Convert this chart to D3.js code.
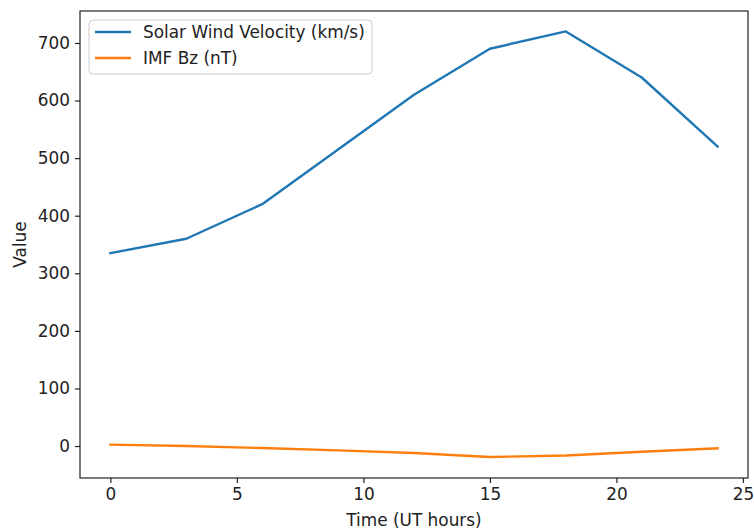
<!DOCTYPE html>
<html><head><meta charset="utf-8">
<script src="https://cdn.jsdelivr.net/npm/d3@7"></script>
<style>body{margin:0;background:#fff}svg{display:block;font-family:"DejaVu Sans",sans-serif}</style>
</head><body><svg id="c" width="754" height="531"></svg>
<script>
const hours = [0, 3, 6, 9, 12, 15, 18, 21, 24];
const velocity = [335, 360, 420, 515, 610, 690, 720, 640, 520];
const imfBz = [2.5, 0, -3.5, -7.5, -12, -19, -16.5, -10, -4];
const seriesNames = ["Solar Wind Velocity (km/s)", "IMF Bz (nT)"];
const colors = ["#1f77b4", "#ff7f0e"];
const xTicks = [0, 5, 10, 15, 20, 25];
const yTicks = [0, 100, 200, 300, 400, 500, 600, 700];

const svg = d3.select("#c");
const L = 80, R = 748, T = 11, B = 478;
const x = d3.scaleLinear().domain([-1.2, 25.2]).range([L, R]);
const y = d3.scaleLinear().domain([-55.5, 755.5]).range([B, T]);
const fs = 16.9;

const series = [velocity, imfBz];
const line = d3.line().x((d, i) => x(hours[i])).y(d => y(d));
svg.append("g").selectAll("path").data(series).join("path")
  .attr("d", d => line(d)).attr("fill", "none")
  .attr("stroke", (d, i) => colors[i]).attr("stroke-width", 2.4)
  .attr("stroke-linejoin", "round").attr("stroke-linecap", "square");

const xa = svg.append("g").attr("transform", `translate(0,${B})`)
  .call(d3.axisBottom(x).tickValues(xTicks).tickSize(5).tickPadding(5).tickFormat(d3.format("d")));
const ya = svg.append("g").attr("transform", `translate(${L},0)`)
  .call(d3.axisLeft(y).tickValues(yTicks).tickSize(5).tickPadding(5).tickFormat(d3.format("d")));
[xa, ya].forEach(a => {
  a.select(".domain").remove();
  a.selectAll("text").attr("font-size", fs).attr("fill", "#222").attr("font-family", "DejaVu Sans");
  a.selectAll("line").attr("stroke", "#222").attr("stroke-width", 1.2);
});
svg.append("rect").attr("x", L).attr("y", T).attr("width", R - L).attr("height", B - T)
  .attr("fill", "none").attr("stroke", "#222").attr("stroke-width", 1.2);

svg.append("text").attr("x", (L + R) / 2).attr("y", 526).attr("text-anchor", "middle")
  .attr("font-size", fs).attr("fill", "#222").text("Time (UT hours)");
svg.append("text").attr("transform", `translate(26,${(T + B) / 2}) rotate(-90)`)
  .attr("text-anchor", "middle").attr("font-size", fs).attr("fill", "#222").text("Value");

const lg = svg.append("g");
lg.append("rect").attr("x", 89).attr("y", 20).attr("width", 283).attr("height", 54).attr("rx", 4)
  .attr("fill", "#fff").attr("fill-opacity", 0.8).attr("stroke", "#ccc").attr("stroke-width", 1);
seriesNames.forEach((n, i) => {
  const yy = 32 + i * 26;
  lg.append("line").attr("x1", 95).attr("x2", 131).attr("y1", yy).attr("y2", yy)
    .attr("stroke", colors[i]).attr("stroke-width", 2.4);
  lg.append("text").attr("x", 143).attr("y", yy + 6).attr("font-size", fs).attr("fill", "#222").text(n);
});
</script></body></html>
